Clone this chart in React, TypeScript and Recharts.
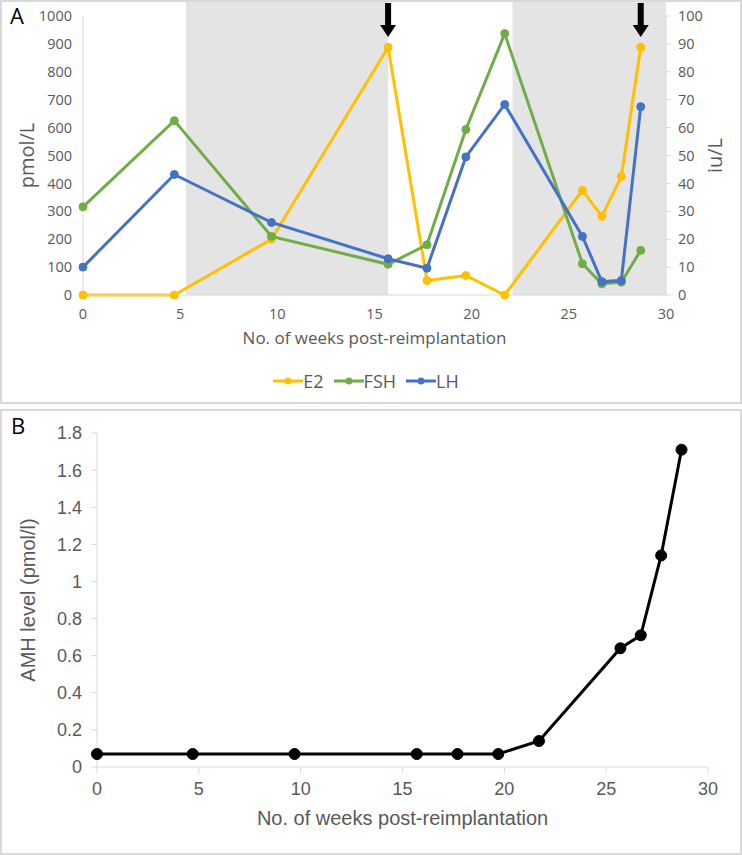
import React from 'react'
import {
  LineChart,
  Line,
  XAxis,
  YAxis,
  Legend,
  ReferenceArea,
  ReferenceDot,
} from 'recharts'

// weeks post-reimplantation (shared by both panels)
const WEEKS = [0, 4.7, 9.7, 15.7, 17.7, 19.7, 21.7, 25.7, 26.7, 27.7, 28.7]

// panel A
const E2 = [0, 0, 200, 888, 52, 70, 0, 375, 282, 425, 888]
const FSH = [31.6, 62.5, 21, 11, 18, 59.3, 93.7, 11.2, 4, 4.6, 16]
const LH = [10, 43.2, 26, 13, 9.6, 49.5, 68.3, 21, 4.8, 5.2, 67.5]
const SHADED = [
  [5.3, 15.7],
  [22.1, 30],
]
const ARROW_WEEKS = [15.7, 28.7]
const X_TICKS = [0, 5, 10, 15, 20, 25, 30]
const LEFT_TICKS = [0, 100, 200, 300, 400, 500, 600, 700, 800, 900, 1000]
const RIGHT_TICKS = [0, 10, 20, 30, 40, 50, 60, 70, 80, 90, 100]

// panel B
const AMH = [0.07, 0.07, 0.07, 0.07, 0.07, 0.07, 0.14, 0.64, 0.71, 1.14, 1.71]
const AMH_TICKS = [0, 0.2, 0.4, 0.6, 0.8, 1, 1.2, 1.4, 1.6, 1.8]

const COLORS = {
  e2: '#FFC000',
  fsh: '#70AD47',
  lh: '#4472C4',
}

const SERIES = [
  { key: 'e2', name: 'E2', color: COLORS.e2 },
  { key: 'fsh', name: 'FSH', color: COLORS.fsh },
  { key: 'lh', name: 'LH', color: COLORS.lh },
]

const FONT_A = '"Open Sans", sans-serif'
const FONT_B = '"Liberation Sans", Arial, sans-serif'
const TEXT = '#595959'
const AXIS = '#d9d9d9'

const hormoneData = WEEKS.map((w, i) => ({ week: w, e2: E2[i], fsh: FSH[i], lh: LH[i] }))
const amhData = WEEKS.map((w, i) => ({ week: w, amh: AMH[i] }))

function Arrow(props: any) {
  const { cx, cy } = props
  if (cx == null || cy == null) return null
  const d = `M${cx - 3},${cy - 13} L${cx + 3},${cy - 13} L${cx + 3},${cy + 9} L${cx + 8},${cy + 9} L${cx},${cy + 21} L${cx - 8},${cy + 9} L${cx - 3},${cy + 9} Z`
  return <path d={d} fill="#000" />
}

function HormoneLegend() {
  return (
    <div
      style={{
        display: 'flex',
        justifyContent: 'center',
        alignItems: 'center',
        height: 32,
        fontFamily: FONT_A,
        fontSize: 18,
        color: TEXT,
      }}
    >
      {SERIES.map((s) => (
        <div key={s.key} style={{ display: 'flex', alignItems: 'center', marginRight: 10 }}>
          <svg width={30} height={10}>
            <line x1={0} y1={5} x2={30} y2={5} stroke={s.color} strokeWidth={3} />
            <circle cx={15} cy={5} r={3.5} fill={s.color} />
          </svg>
          <span>{s.name}</span>
        </div>
      ))}
    </div>
  )
}

function PanelA() {
  const tick = { fontSize: 14.5, fill: TEXT, fontFamily: FONT_A }
  return (
    <LineChart
      width={742}
      height={405}
      data={hormoneData}
      margin={{ top: 16, right: 16, left: 23, bottom: 8 }}
    >
      {SHADED.map(([a, b]) => (
        <ReferenceArea
          key={a}
          yAxisId="left"
          x1={a}
          x2={b}
          y1={0}
          y2={1050}
          ifOverflow="visible"
          fill="#e4e4e4"
          fillOpacity={1}
          stroke="none"
        />
      ))}
      <XAxis
        dataKey="week"
        type="number"
        domain={[0, 30]}
        ticks={X_TICKS}
        tick={tick}
        tickLine={false}
        tickMargin={8}
        stroke={AXIS}
        height={70}
        label={{
          value: 'No. of weeks post-reimplantation',
          position: 'insideBottom',
          offset: 21,
          style: { fontSize: 17, fill: TEXT, fontFamily: FONT_A },
        }}
      />
      <YAxis
        yAxisId="left"
        domain={[0, 1000]}
        ticks={LEFT_TICKS}
        tick={tick}
        tickLine={false}
        tickMargin={5}
        stroke={AXIS}
        width={60}
        label={{
          value: 'pmol/L',
          angle: -90,
          position: 'insideLeft',
          offset: 4,
          style: { fontSize: 20, fill: TEXT, fontFamily: FONT_A, textAnchor: 'middle' },
        }}
      />
      <YAxis
        yAxisId="right"
        orientation="right"
        domain={[0, 100]}
        ticks={RIGHT_TICKS}
        tick={tick}
        tickLine={{ stroke: AXIS }}
        tickSize={5}
        tickMargin={7}
        stroke={AXIS}
        width={60}
        label={{
          value: 'iu/L',
          angle: -90,
          position: 'insideRight',
          offset: 11,
          style: { fontSize: 20, fill: TEXT, fontFamily: FONT_A, textAnchor: 'middle' },
        }}
      />
      <Line
        yAxisId="left"
        dataKey="e2"
        name="E2"
        type="linear"
        stroke={COLORS.e2}
        strokeWidth={3}
        dot={{ r: 4, fill: COLORS.e2, stroke: COLORS.e2, strokeWidth: 1 }}
        isAnimationActive={false}
      />
      <Line
        yAxisId="right"
        dataKey="fsh"
        name="FSH"
        type="linear"
        stroke={COLORS.fsh}
        strokeWidth={3}
        dot={{ r: 4, fill: COLORS.fsh, stroke: COLORS.fsh, strokeWidth: 1 }}
        isAnimationActive={false}
      />
      <Line
        yAxisId="right"
        dataKey="lh"
        name="LH"
        type="linear"
        stroke={COLORS.lh}
        strokeWidth={3}
        dot={{ r: 4, fill: COLORS.lh, stroke: COLORS.lh, strokeWidth: 1 }}
        isAnimationActive={false}
      />
      {ARROW_WEEKS.map((w) => (
        <ReferenceDot
          key={w}
          yAxisId="left"
          x={w}
          y={1000}
          r={0}
          ifOverflow="visible"
          shape={Arrow}
        />
      ))}
      <Legend
        verticalAlign="bottom"
        content={HormoneLegend}
        wrapperStyle={{ left: 0, width: 742 }}
      />
    </LineChart>
  )
}

function PanelB() {
  const tick = { fontSize: 18, fill: TEXT, fontFamily: FONT_B }
  return (
    <LineChart
      width={742}
      height={450}
      data={amhData}
      margin={{ top: 28, right: 34, left: 20, bottom: 28 }}
    >
      <XAxis
        dataKey="week"
        type="number"
        domain={[0, 30]}
        ticks={X_TICKS}
        tick={tick}
        tickLine={{ stroke: AXIS }}
        tickSize={6}
        tickMargin={9}
        stroke={AXIS}
        height={60}
        label={{
          value: 'No. of weeks post-reimplantation',
          position: 'insideBottom',
          offset: 2,
          style: { fontSize: 20, fill: TEXT, fontFamily: FONT_B },
        }}
      />
      <YAxis
        domain={[0, 1.8]}
        ticks={AMH_TICKS}
        tick={tick}
        tickLine={{ stroke: AXIS }}
        tickSize={6}
        tickMargin={9}
        stroke={AXIS}
        width={77}
        label={{
          value: 'AMH level (pmol/l)',
          angle: -90,
          position: 'insideLeft',
          offset: 8,
          style: { fontSize: 20, fill: TEXT, fontFamily: FONT_B, textAnchor: 'middle' },
        }}
      />
      <Line
        dataKey="amh"
        name="AMH"
        type="linear"
        stroke="#000"
        strokeWidth={3}
        dot={{ r: 5.5, fill: '#000', stroke: '#000', strokeWidth: 1 }}
        isAnimationActive={false}
      />
    </LineChart>
  )
}

const panelBox: React.CSSProperties = {
  position: 'absolute',
  left: 0,
  width: 742,
  border: `2px solid ${AXIS}`,
  boxSizing: 'border-box',
}

const letter: React.CSSProperties = {
  position: 'absolute',
  left: 10,
  fontFamily: FONT_A,
  fontSize: 22,
  color: '#000',
  lineHeight: 1,
}

export default function App() {
  return (
    <div style={{ position: 'absolute', left: 0, top: 0, width: 742, height: 855, background: '#fff' }}>
      <div style={{ ...panelBox, top: 0, height: 404 }} />
      <div style={{ ...panelBox, top: 409, height: 446 }} />
      <div style={{ position: 'absolute', left: 0, top: 0 }}>
        <PanelA />
      </div>
      <div style={{ position: 'absolute', left: 0, top: 405 }}>
        <PanelB />
      </div>
      <div style={{ ...letter, top: 4 }}>A</div>
      <div style={{ ...letter, top: 414, left: 11 }}>B</div>
    </div>
  )
}
